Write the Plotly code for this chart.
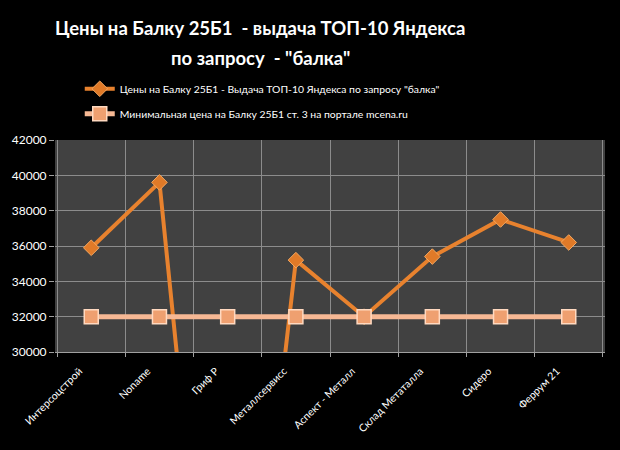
import plotly.graph_objects as go

# Categories (suppliers) and prices
suppliers = ['Интерсоцстрой', 'Noname', 'Гриф Р', 'Металлсервисс',
             'Аспект - Металл', 'Склад Метаталла', 'Сидеро', 'Феррум 21']
yandex_prices = [35900, 39600, 1500, 35200, 32000, 35400, 37500, 36200]
mcena_prices = [32000, 32000, 32000, 32000, 32000, 32000, 32000, 32000]
y_ticks = [30000, 32000, 34000, 36000, 38000, 40000, 42000]

FONT = 'Lato'

fig = go.Figure()

# Orange line - prices from Yandex top-10
fig.add_trace(go.Scatter(
    x=suppliers, y=yandex_prices,
    name='Цены на Балку 25Б1 - Выдача ТОП-10 Яндекса по запросу "балка"',
    legendgroup='a',
    mode='lines+markers',
    line=dict(color='#E8822E', width=4),
    marker=dict(symbol='diamond', size=12, color='#E07A28',
                line=dict(color='#F5A860', width=1)),
))

# Peach line - minimal price on mcena.ru
fig.add_trace(go.Scatter(
    x=suppliers, y=mcena_prices,
    name='Минимальная цена на Балку 25Б1 ст. 3 на портале mcena.ru',
    legendgroup='b',
    mode='lines+markers',
    line=dict(color='#F6B894', width=5),
    marker=dict(symbol='square', size=14, color='#EFA070',
                line=dict(color='#FFD9C0', width=1.5)),
))

# Two-line bold title
fig.add_annotation(text='<b>Цены на Балку 25Б1  - выдача ТОП-10 Яндекса</b>',
                   xref='paper', yref='paper', x=0.373, y=1.59,
                   showarrow=False, font=dict(family=FONT, size=18.5, color='white'))
fig.add_annotation(text='<b>по запросу  - "балка"</b>',
                   xref='paper', yref='paper', x=0.373, y=1.448,
                   showarrow=False, font=dict(family=FONT, size=18.5, color='white'))

fig.update_layout(
    width=620, height=450,
    paper_bgcolor='black',
    plot_bgcolor='#414141',
    margin=dict(l=55, r=15, t=140, b=98),
    font=dict(family=FONT, color='white', size=12),
    showlegend=True,
    legend=dict(
        x=0.045, y=1.31, xanchor='left', yanchor='top',
        bgcolor='rgba(0,0,0,0)',
        font=dict(family=FONT, size=10.4, color='white'),
        traceorder='grouped', tracegroupgap=6,
        itemwidth=30,
    ),
    xaxis=dict(
        type='category',
        tickangle=-45,
        tickson='boundaries',
        ticks='outside', ticklen=4, tickcolor='#a0a0a0',
        showgrid=True, gridcolor='#8c8c8c', gridwidth=1,
        showline=True, linecolor='#a0a0a0',
        tickfont=dict(family=FONT, size=10.5, color='white'),
        ticklabelstandoff=8, ticklabelshift=-12,
        fixedrange=True,
    ),
    yaxis=dict(
        range=[30000, 42000],
        tickvals=y_ticks,
        tickformat='d',
        ticks='outside', ticklen=5, tickcolor='#a0a0a0',
        showgrid=True, gridcolor='#8c8c8c', gridwidth=1,
        zeroline=False,
        tickfont=dict(family=FONT, size=12, color='white'),
        fixedrange=True,
    ),
)

# drop the page's default white body margin so the black chart fills the window
fig.write_html('out.html',
               config={'displayModeBar': False},
               post_script="document.body.style.margin='0';"
                           "document.body.style.background='black';")
